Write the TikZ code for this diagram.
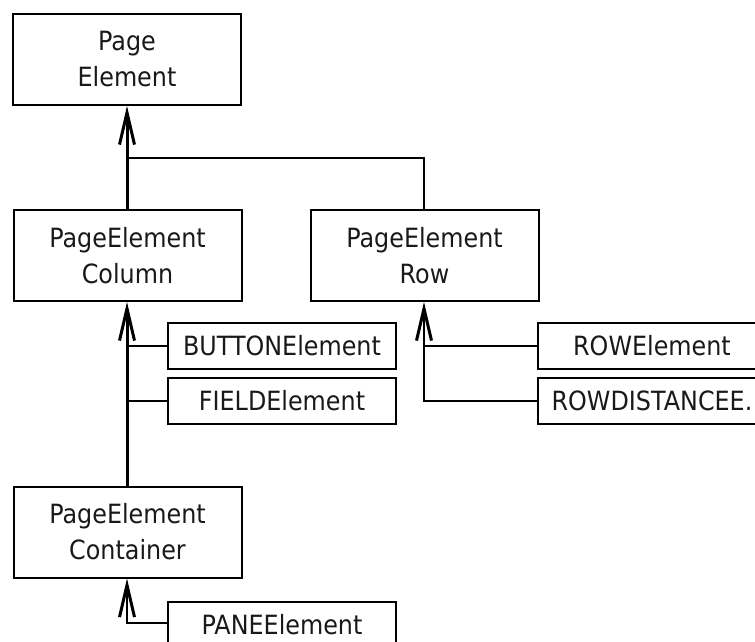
\documentclass[tikz,border=0pt]{standalone}
\usepackage{fontspec}
\setmainfont[FakeStretch=0.9]{DejaVu Sans}
\usetikzlibrary{arrows.meta}
\tikzset{
  bigbox/.style={draw=black,line width=2pt,minimum width=228pt,minimum height=91pt,align=center,inner sep=0pt,
    font=\fontsize{26.5}{36}\selectfont,text=black!90},
  smallbox/.style={draw=black,line width=2pt,minimum width=228pt,minimum height=46pt,align=center,inner sep=0pt,
    font=\fontsize{26.5}{36}\selectfont,text=black!90},
  trunk/.style={line width=3pt},
  branch/.style={line width=2pt},
  inh/.style={-{Straight Barb[length=32pt,width=15pt,line width=3pt]}},
}
\begin{document}
\begin{tikzpicture}[x=1pt,y=-1pt]
\useasboundingbox (0,0) rectangle (755,641);
\clip (0,0) rectangle (755,641);
\node[bigbox] (pe) at (127,59.5) {Page\\Element};
\node[bigbox] (col) at (127.5,255.5) {PageElement\\Column};
\node[bigbox] (row) at (424.5,255.5) {PageElement\\Row};
\node[bigbox] (cont) at (127.5,532) {PageElement\\Container};
\node[smallbox] (button) at (282,346) {BUTTONElement};
\node[smallbox] (field) at (282,401) {FIELDElement};
\node[smallbox] (rowel) at (652,346) {ROWElement};
\node[smallbox] (rowdist) at (652,401) {ROWDISTANCEE.};
\node[smallbox] (pane) at (282,625) {PANEElement};
\coordinate (j1) at (127,158);
\coordinate (j2) at (127,346);
\coordinate (j3) at (127,401);
\coordinate (j4) at (424,346);
\coordinate (j5) at (424,401);
\coordinate (j6) at (127,623);
% to PageElement
\draw[trunk,inh] (col.north -| j1) -- (pe.south -| j1);
\draw[branch] (row.north -| j4) -- (j4 |- j1) -- (j1);
% to Column
\draw[trunk,inh] (cont.north -| j2) -- (col.south -| j2);
\draw[branch] (button.west) -- (j2);
\draw[branch] (field.west) -- (j3);
% to Row
\draw[branch,inh] (rowdist.west) -- (j5) -- (row.south -| j5);
\draw[branch] (rowel.west) -- (j4);
% to Container
\draw[branch,inh] (pane.west |- j6) -- (j6) -- (cont.south -| j6);
\end{tikzpicture}
\end{document}
